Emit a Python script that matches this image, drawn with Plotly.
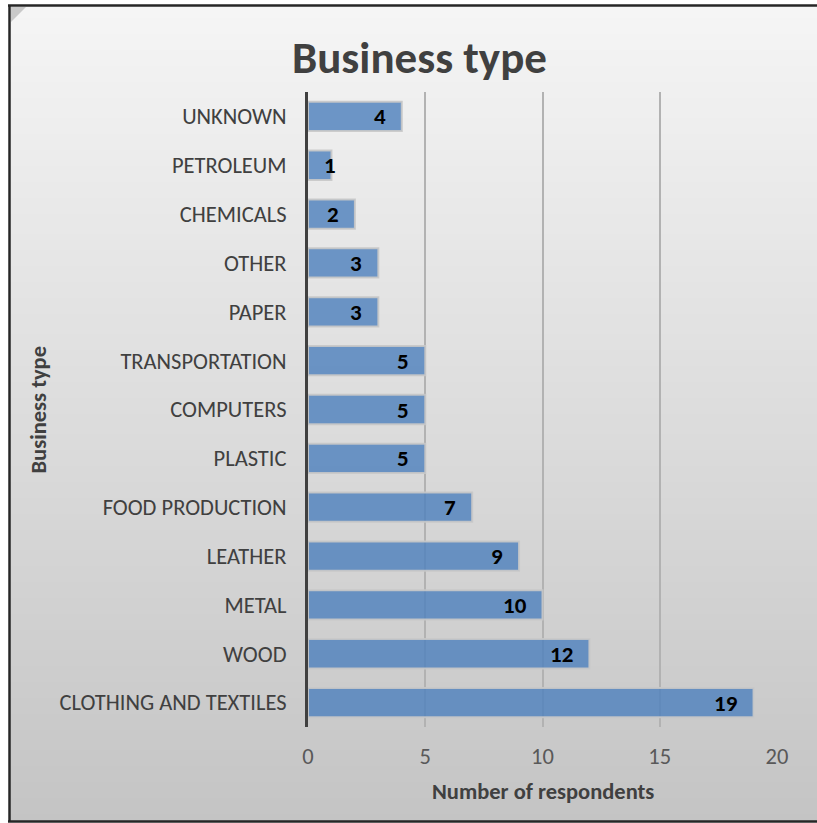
import plotly.graph_objects as go

# Survey counts, listed bottom-to-top as drawn
categories = [
    "CLOTHING AND TEXTILES", "WOOD", "METAL", "LEATHER", "FOOD PRODUCTION",
    "PLASTIC", "COMPUTERS", "TRANSPORTATION", "PAPER", "OTHER",
    "CHEMICALS", "PETROLEUM", "UNKNOWN",
]
respondents = [19, 12, 10, 9, 7, 5, 5, 5, 3, 3, 2, 1, 4]
x_ticks = [0, 5, 10, 15, 20]

W, H = 817, 823
L, R, T, B = 308, 40, 92, 96
PW, PH = W - L - R, H - T - B
FONT = "Carlito, Lato, 'Open Sans', sans-serif"
TXT = "#404040"


def fx(px):
    return (px - L) / PW


def fy(py):
    return (H - B - py) / PH


def mix(c1, c2, t):
    return "rgb(%d,%d,%d)" % tuple(round(a + (b - a) * t) for a, b in zip(c1, c2))


fig = go.Figure(
    go.Bar(
        x=respondents,
        y=categories,
        orientation="h",
        marker=dict(color="rgba(79,129,189,0.82)",
                    line=dict(color="rgba(200,200,200,0.9)", width=2)),
        width=0.6,
        hoverinfo="x+y",
    )
)

# gradient backdrop in horizontal bands
shapes = []
top_px, bot_px = 6, 821
c_top, c_bot = (245, 245, 245), (196, 196, 196)
step = 4
y = top_px
while y < bot_px:
    y2 = min(y + step, bot_px)
    t = (y - top_px) / (bot_px - top_px)
    shapes.append(dict(type="rect", xref="paper", yref="paper", layer="below",
                       x0=fx(10), x1=fx(W + 2), y0=fy(y2 + 0.5), y1=fy(y),
                       fillcolor=mix(c_top, c_bot, t), line=dict(width=0)))
    y = y2
# corner bevel
shapes.append(dict(type="path", xref="paper", yref="paper", layer="below",
                   path="M %f,%f L %f,%f L %f,%f Z" % (fx(11), fy(7), fx(26), fy(7), fx(11), fy(22)),
                   fillcolor="#c9c9c9", line=dict(width=0)))
# frame lines
frame = dict(color="#262626", width=2.5)
shapes.append(dict(type="line", xref="paper", yref="paper", x0=fx(8), x1=fx(W + 2),
                   y0=fy(5.5), y1=fy(5.5), line=frame, layer="below"))
shapes.append(dict(type="line", xref="paper", yref="paper", x0=fx(9.5), x1=fx(9.5),
                   y0=fy(5), y1=fy(822), line=frame, layer="below"))
shapes.append(dict(type="line", xref="paper", yref="paper", x0=fx(8), x1=fx(W + 2),
                   y0=fy(821.5), y1=fy(821.5), line=frame, layer="below"))

# value labels at the inner end of each bar
LABEL_SIZE = 23
px_per_unit = PW / 20
annotations = []
for cat, v in zip(categories, respondents):
    label_w = 12 * len(str(v))
    if v * px_per_unit < label_w + 30:
        annotations.append(dict(x=0, y=cat, xref="x", yref="y", text="<b>%d</b>" % v,
                                xanchor="left", yanchor="middle", xshift=14, showarrow=False,
                                font=dict(family=FONT, size=LABEL_SIZE, color="black")))
    else:
        annotations.append(dict(x=v, y=cat, xref="x", yref="y", text="<b>%d</b>" % v,
                                xanchor="right", yanchor="middle", xshift=-14, showarrow=False,
                                font=dict(family=FONT, size=LABEL_SIZE, color="black")))

annotations += [
    dict(x=fx(419), y=fy(57), xref="paper", yref="paper", text="<b>Business type</b>",
         xanchor="center", yanchor="middle",
         showarrow=False, font=dict(family=FONT, size=45, color=TXT)),
    dict(x=fx(542.5), y=fy(791), xref="paper", yref="paper", text="<b>Number of respondents</b>",
         xanchor="center", yanchor="middle",
         showarrow=False, font=dict(family=FONT, size=22.5, color=TXT)),
    dict(x=fx(38), y=fy(409.5), xref="paper", yref="paper", text="<b>Business type</b>",
         xanchor="center", yanchor="middle",
         showarrow=False, textangle=-90, font=dict(family=FONT, size=22.5, color=TXT)),
]

fig.update_layout(
    width=W, height=H,
    margin=dict(l=L, r=R, t=T, b=B, pad=0),
    paper_bgcolor="white",
    plot_bgcolor="rgba(0,0,0,0)",
    showlegend=False,
    bargap=0.4,
    shapes=shapes,
    annotations=annotations,
    xaxis=dict(range=[0, 20], tickvals=x_ticks, showgrid=True, gridcolor="#b2b2b2",
               gridwidth=1.5, zeroline=False, showline=False,
               tickfont=dict(family=FONT, size=22.5, color="#595959"),
               ticklabelstandoff=13, fixedrange=True),
    yaxis=dict(showline=True, linecolor="#404040", linewidth=3, showgrid=False,
               tickfont=dict(family=FONT, size=22.5, color=TXT),
               ticklabelstandoff=14, fixedrange=True),
)

fig.write_html("out.html")
